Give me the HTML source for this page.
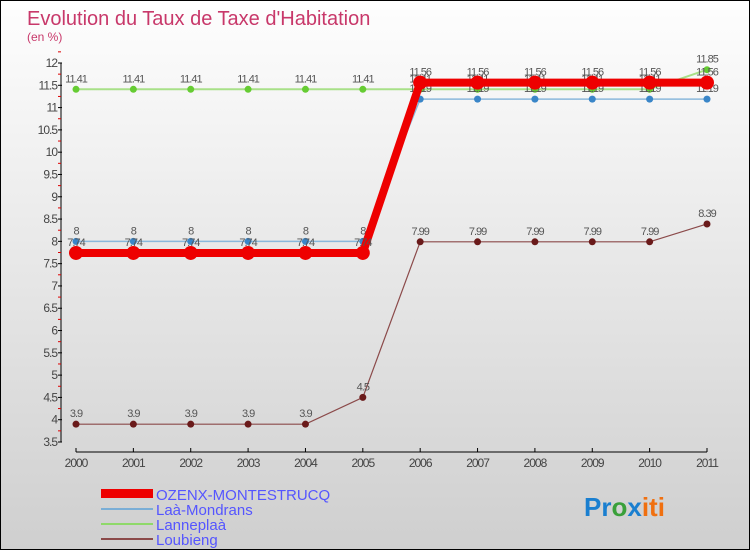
<!DOCTYPE html>
<html><head><meta charset="utf-8"><style>
body{margin:0}
#c{width:748px;height:548px;border:1px solid #000;background:linear-gradient(#fefefe,#cfcfcf);position:relative;font-family:"Liberation Sans",sans-serif;overflow:hidden}
</style></head><body>
<div id="c">
<svg id="s" width="748" height="548" style="position:absolute;left:0;top:0">
<text x="26" y="24" font-size="20" fill="#c8386a">Evolution du Taux de Taxe d'Habitation</text>
<text x="26" y="40" font-size="12" fill="#c8386a">(en %)</text>
<g id="axes"></g><g id="series"></g>
<g>
<rect x="100" y="488" width="52" height="9" fill="#e00"/>
<text x="155" y="499" font-size="15" fill="#55f">OZENX-MONTESTRUCQ</text>
<line x1="100" y1="508" x2="152" y2="508" stroke="#7aaed6" stroke-width="2"/>
<text x="155" y="514" font-size="15" fill="#55f">Laà-Mondrans</text>
<line x1="100" y1="523" x2="152" y2="523" stroke="#8fd96a" stroke-width="2"/>
<text x="155" y="529" font-size="15" fill="#55f">Lanneplaà</text>
<line x1="100" y1="538" x2="152" y2="538" stroke="#8b4a4a" stroke-width="2"/>
<text x="155" y="544" font-size="15" fill="#55f">Loubieng</text>
</g>
<text x="583" y="515" font-size="26" font-weight="bold"><tspan fill="#1a7fd0">Pr</tspan><tspan fill="#3aa03a">o</tspan><tspan fill="#1a7fd0">x</tspan><tspan fill="#f07010">iti</tspan></text>
</svg>
</div>
<script>
const years=[2000,2001,2002,2003,2004,2005,2006,2007,2008,2009,2010,2011];
const yTicks=[3.5,4,4.5,5,5.5,6,6.5,7,7.5,8,8.5,9,9.5,10,10.5,11,11.5,12];
const ozenx=[7.74,7.74,7.74,7.74,7.74,7.74,11.56,11.56,11.56,11.56,11.56,11.56];
const laa=[8,8,8,8,8,8,11.19,11.19,11.19,11.19,11.19,11.19];
const lanneplaa=[11.41,11.41,11.41,11.41,11.41,11.41,11.41,11.41,11.41,11.41,11.41,11.85];
const loubieng=[3.9,3.9,3.9,3.9,3.9,4.5,7.99,7.99,7.99,7.99,7.99,8.39];
const NS="http://www.w3.org/2000/svg";
const X=i=>75+i*(706-75)/11;
const Y=v=>441-(v-3.5)*(441-62)/8.5;
function mk(t,a,p){const e=document.createElementNS(NS,t);for(const k in a)e.setAttribute(k,a[k]);p.appendChild(e);return e;}
const ax=document.getElementById('axes'),sg=document.getElementById('series');
let e=mk('line',{x1:60,y1:Y(12),x2:60,y2:Y(3.5),stroke:'#000'},ax);


e=mk('line',{x1:75,y1:451,x2:706,y2:451,stroke:'#000'},ax);


yTicks.forEach(v=>{
 mk('line',{x1:57,y1:Y(v),x2:61,y2:Y(v),stroke:'#000'},ax);
 mk('line',{x1:57,y1:Y(v+0.25),x2:60,y2:Y(v+0.25),stroke:'#d00'},ax);
 const t=mk('text',{x:56,y:Y(v)+4,'font-size':12,'text-anchor':'end',fill:'#444','letter-spacing':'-1'},ax);
 t.textContent=v;
 
 
});
years.forEach((y,i)=>{
 mk('line',{x1:X(i),y1:447,x2:X(i),y2:451,stroke:'#000'},ax);
 const t=mk('text',{x:X(i),y:466,'font-size':12,'text-anchor':'middle',fill:'#444','letter-spacing':'-1'},ax);
 t.textContent=y;
 
 
});
function series(d,col,w,r,dot,name,lab){
 const p=mk('polyline',{points:d.map((v,i)=>X(i)+','+Y(v)).join(' '),fill:'none',stroke:col,'stroke-width':w},sg);
 
 
 d.forEach((v,i)=>{
  const c=mk('circle',{cx:X(i),cy:Y(v),r:r,fill:dot},sg);
  
  
  const t=mk('text',{x:X(i),y:Y(v)-7,'font-size':11,'text-anchor':'middle',fill:'#555','letter-spacing':'-1'},sg);
  t.textContent=v;
  
  
 });
}
series(lanneplaa,'#a8e088',2,3.5,'#6c3','lanneplaa');
series(laa,'#8ab8dc',1.5,3.5,'#3a86c8','laa-mondrans');
series(loubieng,'#8b4a4a',1.2,3.5,'#6a1a1a','loubieng');
series(ozenx,'#e00',8,7,'#e00','ozenx-montestrucq');
</script>
</body></html>
